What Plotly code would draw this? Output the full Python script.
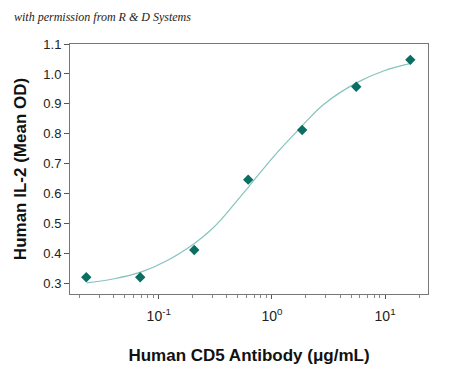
import plotly.graph_objects as go

# Measured points (3-fold dilution series)
conc = [0.0229, 0.0686, 0.206, 0.617, 1.85, 5.56, 16.7]
od = [0.321, 0.321, 0.412, 0.647, 0.813, 0.957, 1.047]

# Fitted curve
curve_x = [0.0232, 0.0404, 0.0693, 0.119, 0.205, 0.287, 0.352, 0.625, 1.04, 1.78, 2.86, 5.63, 9.67, 17.2]
curve_y = [0.302, 0.316, 0.338, 0.377, 0.433, 0.478, 0.512, 0.624, 0.725, 0.820, 0.898, 0.971, 1.010, 1.036]

x_tickvals = [0.1, 1, 10]
x_ticktext = ["10<sup>-1</sup>", "10<sup>0</sup>", "10<sup>1</sup>"]
y_tickvals = [0.3, 0.4, 0.5, 0.6, 0.7, 0.8, 0.9, 1.0, 1.1]

FONT = "Liberation Sans, Arial, sans-serif"

fig = go.Figure()
fig.add_trace(go.Scatter(x=curve_x, y=curve_y, mode="lines",
                         line=dict(color="#86c3bd", width=1.2, shape="spline"),
                         hoverinfo="skip", showlegend=False))
fig.add_trace(go.Scatter(x=conc, y=od, mode="markers",
                         marker=dict(symbol="diamond", size=8, color="#0b6e62"),
                         showlegend=False))

fig.update_layout(
    width=450, height=369,
    margin=dict(l=62, r=30, t=36, b=83),
    paper_bgcolor="white", plot_bgcolor="white",
    font=dict(family=FONT, color="#222"),
    annotations=[dict(text="with permission from R &amp; D Systems", xref="paper", yref="paper",
                      x=-0.162, y=1.108, xanchor="left", yanchor="middle", showarrow=False,
                      font=dict(family="Liberation Serif, serif", size=12, color="#222",
                                style="italic"))],
)

fig.update_xaxes(
    type="log", range=[-1.784, 1.379], automargin=False,
    tickvals=x_tickvals, ticktext=x_ticktext,
    ticks="outside", ticklen=4, tickcolor="#555", tickwidth=1,
    ticklabelstandoff=5,
    minor=dict(ticks="outside", ticklen=3, tickcolor="#888", dtick="D1", showgrid=False),
    showline=True, linecolor="#777", linewidth=1, mirror=True,
    showgrid=False, zeroline=False,
    tickfont=dict(size=14, family=FONT, color="#222"),
    title=dict(text="<b>Human CD5 Antibody (μg/mL)</b>", font=dict(size=17, family=FONT, color="#111"), standoff=26),
)
fig.update_yaxes(
    range=[0.265, 1.1], automargin=False,
    tickvals=y_tickvals, tickformat=".1f",
    ticks="outside", ticklen=5, tickcolor="#555",
    showline=True, linecolor="#777", linewidth=1, mirror=True,
    showgrid=False, zeroline=False,
    tickfont=dict(size=13, family=FONT, color="#222"),
    title=dict(text="<b>Human IL-2 (Mean OD)</b>", font=dict(size=17, family=FONT, color="#111"), standoff=12),
)

fig.write_html("out.html")
